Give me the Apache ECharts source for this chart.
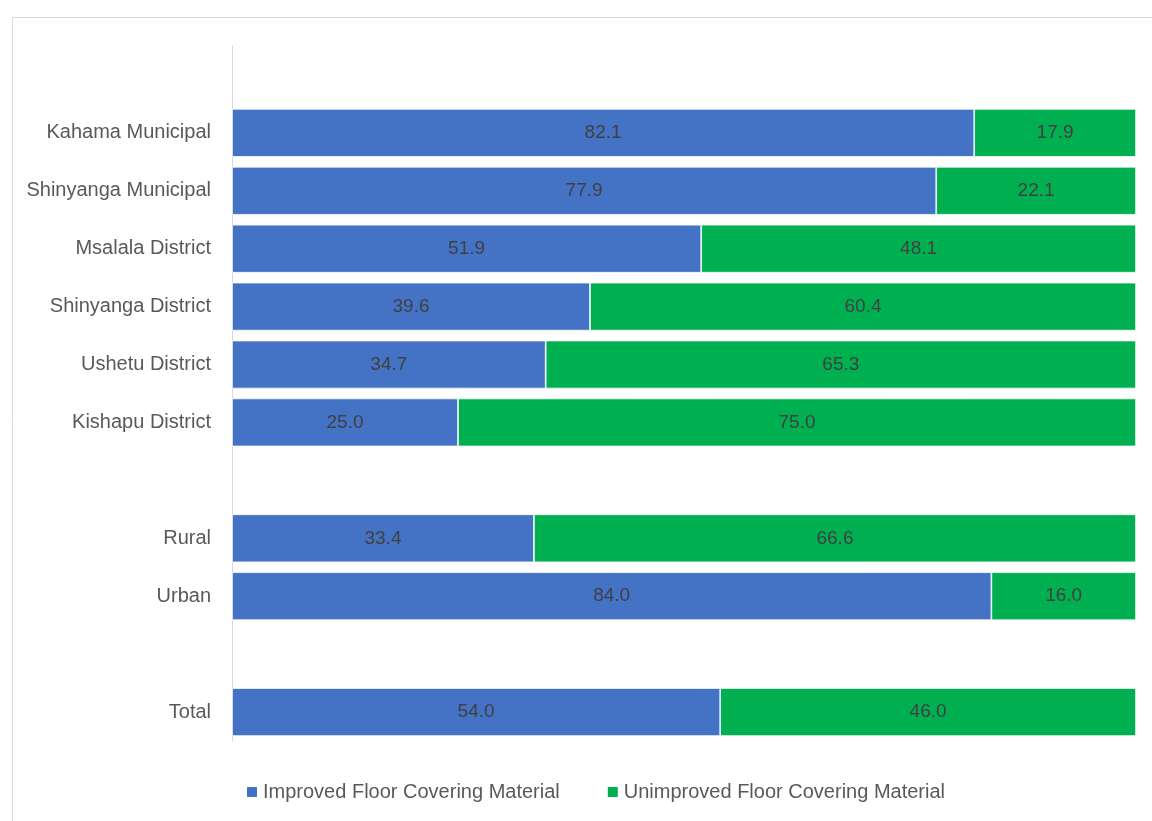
<!DOCTYPE html>
<html><head><meta charset="utf-8">
<script src="https://cdn.jsdelivr.net/npm/echarts@6/dist/echarts.min.js"></script>
<style>html,body{margin:0;padding:0;background:#fff}#c{width:1152px;height:821px}</style>
</head><body><div id="c"></div>
<script>
const categories = ['', 'Kahama Municipal', 'Shinyanga Municipal', 'Msalala District', 'Shinyanga District', 'Ushetu District', 'Kishapu District', ' ', 'Rural', 'Urban', '  ', 'Total'];
const improved = [null, 82.1, 77.9, 51.9, 39.6, 34.7, 25.0, null, 33.4, 84.0, null, 54.0];
const unimproved = [null, 17.9, 22.1, 48.1, 60.4, 65.3, 75.0, null, 66.6, 16.0, null, 46.0];
const seriesNames = ['Improved Floor Covering Material', 'Unimproved Floor Covering Material'];

const FONT = '"Liberation Sans", Arial, sans-serif';
const chart = echarts.init(document.getElementById('c'));
const labelCfg = {show: true, position: 'inside', color: '#404040', fontSize: 19, fontFamily: FONT, formatter: p => p.value.toFixed(1)};
chart.setOption({
  animation: false,
  graphic: [{type: 'rect', shape: {x: 12.5, y: 17.5, width: 1200, height: 900}, style: {fill: 'none', stroke: '#d9d9d9', lineWidth: 1}}],
  grid: {left: 232, right: 16, top: 46, bottom: 80, containLabel: false, outerBoundsMode: 'none'},
  xAxis: {type: 'value', min: 0, max: 100, show: false},
  yAxis: {type: 'category', data: categories, inverse: true,
    axisLine: {show: true, lineStyle: {color: '#d9d9d9', width: 1}},
    axisTick: {show: false}, splitLine: {show: false},
    axisLabel: {color: '#595959', fontSize: 20, margin: 21, fontFamily: FONT}},
  legend: {top: 782, left: 245, padding: 0, itemWidth: 12, itemHeight: 12, itemGap: 46, icon: 'rect',
    textStyle: {color: '#595959', fontSize: 20, fontFamily: FONT}},
  series: [
    {name: seriesNames[0], type: 'bar', stack: 'a', data: improved, barWidth: 48,
      itemStyle: {color: '#4472C4', borderColor: '#ffffff', borderWidth: 0.75}, label: labelCfg},
    {name: seriesNames[1], type: 'bar', stack: 'a', data: unimproved, barWidth: 48,
      itemStyle: {color: '#00B050', borderColor: '#ffffff', borderWidth: 0.75}, label: labelCfg}
  ]
});
</script></body></html>
